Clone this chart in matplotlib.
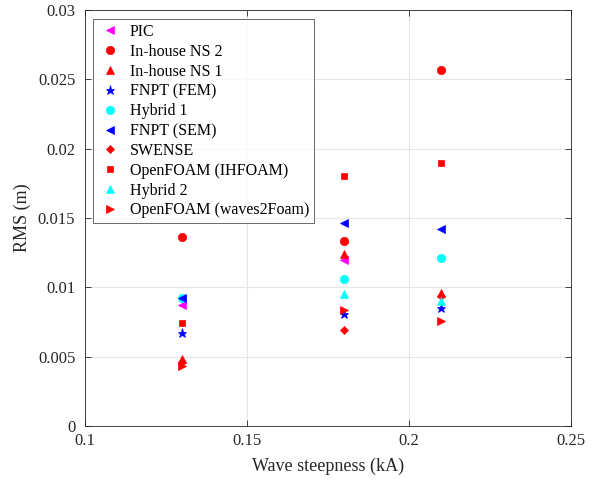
import numpy as np
import matplotlib
matplotlib.use('Agg')
import matplotlib.pyplot as plt

plt.rcParams['font.family'] = ['Liberation Serif', 'DejaVu Serif']

# 파고 경사 (kA)
steepness = [0.13, 0.18, 0.21]

# 모델별 RMS (m), 그림에서 읽은 값 (nan = 표시 없음)
pic = [0.0087, 0.0120, np.nan]
ns2 = [0.01365, 0.01336, 0.02567]
ns1 = [0.0048, 0.0124, 0.0096]
fnpt_fem = [0.0067, 0.0081, 0.0085]
hybrid1 = [0.0092, 0.01058, 0.0121]
fnpt_sem = [0.0092, 0.01462, 0.01418]
swense = [0.0046, 0.0069, 0.0094]
ihfoam = [0.0074, 0.0180, 0.0190]
hybrid2 = [np.nan, 0.0095, 0.0090]
waves2foam = [0.0043, 0.0084, 0.0076]

series = [
    (pic, 'PIC', '<', 'magenta'),
    (ns2, 'In-house NS 2', 'o', 'red'),
    (ns1, 'In-house NS 1', '^', 'red'),
    (fnpt_fem, 'FNPT (FEM)', '*', 'blue'),
    (hybrid1, 'Hybrid 1', 'o', 'cyan'),
    (fnpt_sem, 'FNPT (SEM)', '<', 'blue'),
    (swense, 'SWENSE', 'D', 'red'),
    (ihfoam, 'OpenFOAM (IHFOAM)', 's', 'red'),
    (hybrid2, 'Hybrid 2', '^', 'cyan'),
    (waves2foam, 'OpenFOAM (waves2Foam)', '>', 'red'),
]

sizes = {'<': 6, '>': 6, '^': 6, 'o': 6, '*': 6.5, 'D': 4.5, 's': 4.5}

fig = plt.figure(figsize=(5.97, 4.82), dpi=100)
ax = fig.add_axes([0.1424, 0.1162, 0.8140, 0.8630])

for vals, label, marker, color in series:
    ax.plot(steepness, vals, linestyle='none', marker=marker, color=color,
            markersize=sizes[marker], markeredgewidth=0.5, label=label)

ax.set_xlim(0.1, 0.25)
ax.set_ylim(0, 0.03)
ax.set_xticks([0.1, 0.15, 0.2, 0.25])
ax.set_xticklabels(['0.1', '0.15', '0.2', '0.25'])
ax.set_yticks([0, 0.005, 0.01, 0.015, 0.02, 0.025, 0.03])
ax.set_yticklabels(['0', '0.005', '0.01', '0.015', '0.02', '0.025', '0.03'])
ax.tick_params(direction='in', labelsize=12, length=4, width=0.6,
               colors='#262626', top=True, right=True)
ax.tick_params(axis='y', pad=7)
ax.tick_params(axis='x', pad=5)
ax.grid(True, color='#e6e6e6', linewidth=0.8)
ax.set_axisbelow(True)
for sp in ax.spines.values():
    sp.set_color('#262626')
    sp.set_linewidth(0.6)

ax.set_xlabel('Wave steepness (kA)', fontsize=13, color='#262626', labelpad=6)
ax.set_ylabel('RMS (m)', fontsize=13, color='#262626', labelpad=5)

leg = ax.legend(loc='upper left', bbox_to_anchor=(0.016, 0.978), fontsize=11.5,
                frameon=True, fancybox=False, edgecolor='#262626',
                borderpad=0.3, labelspacing=0.24, handletextpad=0.4,
                handlelength=1.6, borderaxespad=0)
leg.get_frame().set_linewidth(0.6)

fig.savefig('out.png', dpi=100)
